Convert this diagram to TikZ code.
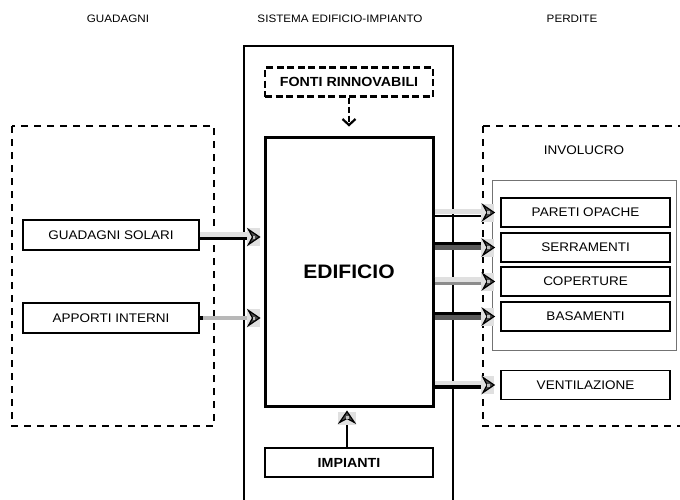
\documentclass[tikz,border=0pt]{standalone}
\usepackage{fontspec}
\setmainfont[FakeStretch=1.08]{Liberation Sans}
\usetikzlibrary{arrows.meta}
\begin{document}
\begin{tikzpicture}[x=1pt,y=-1pt,
  hdr/.style={font=\fontsize{10.8}{12}\selectfont, inner sep=0pt},
  lbl/.style={draw, line width=1.8pt, inner sep=0pt, minimum width=169pt, minimum height=29pt,
              font=\fontsize{12.5}{14}\selectfont},
  blbl/.style={draw, line width=2pt, inner sep=0pt, minimum width=168pt, minimum height=29pt,
              font=\bfseries\fontsize{13.2}{15}\selectfont},
  dbox/.style={draw, line width=1.8pt, dash pattern=on 7pt off 6pt},
  ddbox/.style={draw, line width=2.3pt, dash pattern=on 7pt off 3.5pt},
  lightc/.style={line width=5pt, draw=black!12},
  ico/.pic={
    \fill[black!12] (-13,-9) rectangle (0,9);
    \filldraw[fill=black!70, draw=black, line width=1.2pt, line join=miter]
      (0,0) -- (-11,-7.5) -- (-7,0) -- (-11,7.5) -- cycle;
    \fill[black!25] (-7,-1.5) rectangle (-4.5,1.5);
  },
]
\clip (0,0) rectangle (680,499);
\fill[white] (0,0) rectangle (680,499);

% headings
\node[hdr] (h1) at (118,19) {GUADAGNI};
\node[hdr] (h2) at (340,19) {SISTEMA EDIFICIO-IMPIANTO};
\node[hdr] (h3) at (572,19) {PERDITE};

% frames
\draw[dbox] (12,126) rectangle (214,426);
\draw[dbox] (483,126) rectangle (700,426);
\draw[line width=1.8pt] (244,520) -- (244,46) -- (453,46) -- (453,520);
\draw[line width=0.9pt, draw=black!55] (492,180) rectangle (676,350);
\node[font=\fontsize{12.5}{14}\selectfont, inner sep=0pt] (inv) at (584,150) {INVOLUCRO};

% main nodes
\node[draw, line width=3pt, minimum width=168pt, minimum height=269pt, inner sep=0pt,
      font=\bfseries\fontsize{19.5}{22}\selectfont] (edif) at (349,271.5) {EDIFICIO};
\node[blbl, ddbox] (fonti) at (349,82) {FONTI RINNOVABILI};
\node[blbl] (imp) at (349,462.5) {IMPIANTI};

\node[lbl, minimum width=176pt, minimum height=30pt] (gs) at (111,235) {GUADAGNI SOLARI};
\node[lbl, minimum width=176pt, minimum height=30pt] (ai) at (111,318) {APPORTI INTERNI};

\node[lbl] (po) at (585.5,212.5) {PARETI OPACHE};
\node[lbl] (se) at (585.5,247.5) {SERRAMENTI};
\node[lbl] (co) at (585.5,281.5) {COPERTURE};
\node[lbl] (ba) at (585.5,316.5) {BASAMENTI};
\node[lbl] (ve) at (585.5,385) {VENTILAZIONE};

% fonti -> edificio
\draw[line width=2.3pt, dash pattern=on 6pt off 3pt,
      -{Straight Barb[length=6pt,width=13pt,line width=2.2pt]}]
  (fonti.south) -- ([yshift=9pt]edif.north);

% gains
\draw[lightc] ([yshift=1pt]gs.east) -- ([yshift=1pt,xshift=-12pt]gs.east -| edif.west);
\draw[line width=3pt] ([yshift=-3.5pt]gs.east) -- ([yshift=-3.5pt,xshift=-12pt]gs.east -| edif.west);
\pic at ([yshift=-2pt,xshift=-4pt]gs.east -| edif.west) {ico};
\draw[line width=4pt, draw=black!28] (ai.east) -- ([xshift=-12pt]ai.east -| edif.west);
\draw[line width=4pt] ([xshift=-0.9pt]ai.east) -- ([xshift=3pt]ai.east);
\pic at ([xshift=-4pt]ai.east -| edif.west) {ico};

% losses
\draw[lightc] ([yshift=1.5pt]edif.east |- po.west) -- ([yshift=1.5pt,xshift=-14pt]po.west);
\draw[line width=1.6pt] ([yshift=-3.5pt]edif.east |- po.west) -- ([yshift=-3.5pt,xshift=-14pt]po.west);
\pic at ([xshift=-6pt]po.west) {ico};

\draw[line width=5pt, draw=black!65] (edif.east |- se.west) -- ([xshift=-14pt]se.west);
\draw[line width=3pt] ([yshift=4pt]edif.east |- se.west) -- ([yshift=4pt,xshift=-14pt]se.west);
\pic at ([xshift=-6pt]se.west) {ico};

\draw[lightc] ([yshift=2pt]edif.east |- co.west) -- ([yshift=2pt,xshift=-14pt]co.west);
\draw[line width=3pt, draw=black!45] ([yshift=-2pt]edif.east |- co.west) -- ([yshift=-2pt,xshift=-14pt]co.west);
\pic at ([xshift=-6pt]co.west) {ico};

\draw[line width=5pt, draw=black!65] ([yshift=-1pt]edif.east |- ba.west) -- ([yshift=-1pt,xshift=-14pt]ba.west);
\draw[line width=3pt] ([yshift=3pt]edif.east |- ba.west) -- ([yshift=3pt,xshift=-14pt]ba.west);
\pic at ([xshift=-6pt]ba.west) {ico};

\draw[lightc, line width=4pt] ([yshift=2pt]edif.east |- ve.west) -- ([yshift=2pt,xshift=-14pt]ve.west);
\draw[line width=3.5pt] ([yshift=-2pt]edif.east |- ve.west) -- ([yshift=-2pt,xshift=-14pt]ve.west);
\pic at ([xshift=-6pt]ve.west) {ico};

% impianti -> edificio
\draw[line width=2pt] ([xshift=-2pt]imp.north) -- ([xshift=-2pt,yshift=-16pt]edif.south);
\pic[rotate=90] at ([xshift=-2pt,yshift=-4pt]edif.south) {ico};
\end{tikzpicture}
\end{document}
